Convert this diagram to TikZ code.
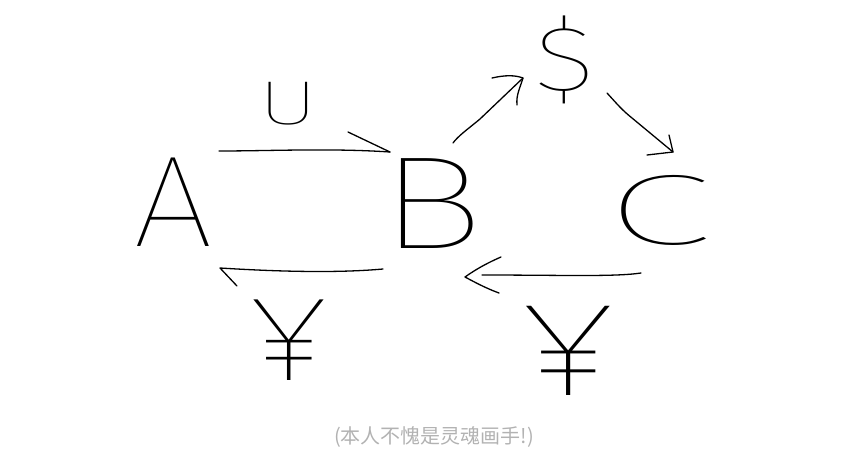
\documentclass[tikz,border=0pt]{standalone}
\usepackage{fontspec}
\newfontfamily\hand{Fira Sans Thin}
\newfontfamily\cjk{Noto Sans CJK SC}
\begin{document}
\begin{tikzpicture}[x=1pt,y=-1pt,
  stroke/.style={draw=black, line width=1.3pt, line cap=round, line join=round},
  glyph/.style={inner sep=0pt, text=black}]
\useasboundingbox (0,0) rectangle (865,455);
% letters
\node[glyph, font={\hand\fontsize{130}{130}\selectfont}] (A) at (173,202) {\scalebox{1.1}[1]{A}};
\node[glyph, font={\hand\fontsize{132}{132}\selectfont}] (B) at (432,204) {\scalebox{1.35}[1]{B}};
\node[glyph, font={\hand\fontsize{100}{100}\selectfont}] (C) at (659,210) {\scalebox{1.95}[1]{C}};
\node[glyph, font={\hand\fontsize{62}{62}\selectfont}] (U) at (288,104) {\scalebox{1.5}[1]{U}};
\node[glyph, font={\hand\fontsize{92}{92}\selectfont}] (D) at (565,60) {\scalebox{1.3}[1]{\$}};
\node[glyph, font={\hand\fontsize{122}{122}\selectfont}] (Y1) at (289,340) {\scalebox{1.3}[1]{¥}};
\node[glyph, font={\hand\fontsize{135}{135}\selectfont}] (Y2) at (568,351) {\scalebox{1.4}[1]{¥}};
% caption
\node[inner sep=0pt, font={\cjk\fontsize{20}{20}\selectfont}, text=black!30] (cap) at (434,437) {(本人不愧是灵魂画手!)};
% connector end points
\coordinate (ab1) at (219,151); \coordinate (ab2) at (390,152); \coordinate (abb) at (348,132);
\coordinate (ba1) at (383,269); \coordinate (ba2) at (220,268); \coordinate (bab) at (237,286);
\coordinate (bd1) at (453,143); \coordinate (bd2) at (523,78); \coordinate (bdb1) at (492,78); \coordinate (bdb2) at (517,105);
\coordinate (dc1) at (607,93); \coordinate (dc2) at (673,152); \coordinate (dcb1) at (647,155); \coordinate (dcb2) at (669,135);
\coordinate (cb1) at (641,273); \coordinate (cb2) at (465,277); \coordinate (cbs) at (482,275); \coordinate (cbb1) at (501,257); \coordinate (cbb2) at (499,293);
% A -> B
\draw[stroke] (ab1) .. controls (270,151) and (330,148) .. (ab2);
\draw[stroke] (abb) -- (ab2);
% B -> A
\draw[stroke] (ba1) .. controls (350,272) and (300,273) .. (ba2) -- (bab);
% B -> $
\draw[stroke] (bd1) .. controls (458,136) and (468,129) .. (480,119) -- (bd2);
\draw[stroke] (bdb1) .. controls (505,75) and (515,75) .. (bd2) .. controls (520,88) and (516,95) .. (bdb2);
% $ -> C
\draw[stroke] (dc1) .. controls (618,105) and (622,110) .. (632,118) -- (dc2);
\draw[stroke] (dcb1) -- (dc2) -- (dcb2);
% C -> B
\draw[stroke] (cb1) .. controls (615,277) and (560,275) .. (cbs);
\draw[stroke] (cbb1) .. controls (485,264) and (475,270) .. (cb2) .. controls (478,284) and (488,289) .. (cbb2);
\end{tikzpicture}
\end{document}
